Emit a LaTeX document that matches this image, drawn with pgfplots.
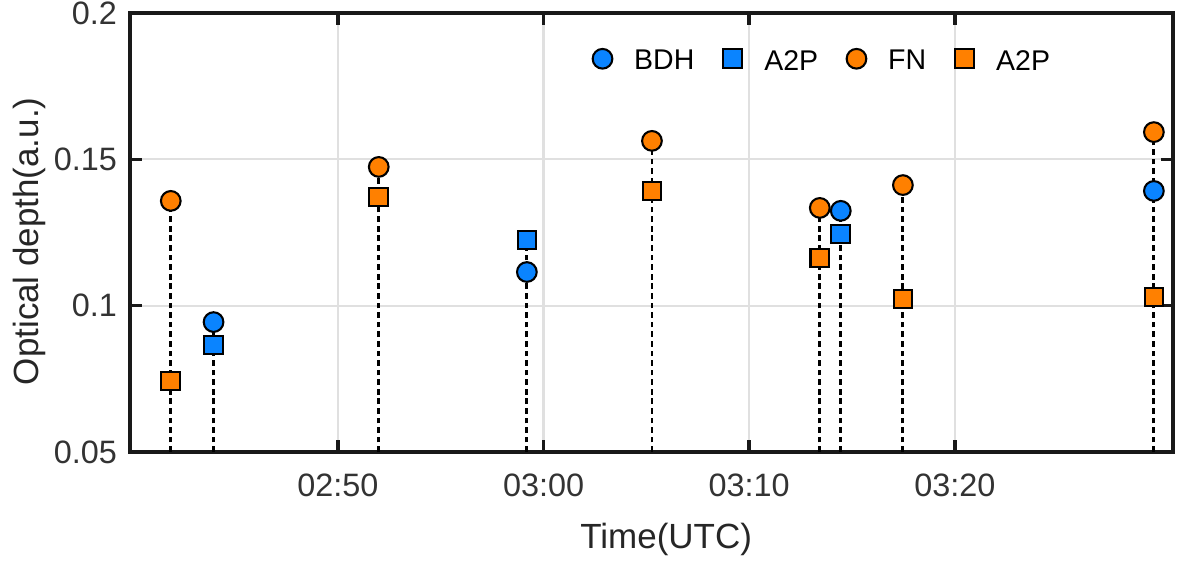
\documentclass[border=0pt]{standalone}
\usepackage{fontspec}
\setmainfont{Liberation Sans}
\usepackage{pgfplots}
\pgfplotsset{compat=1.18}
\definecolor{mblue}{RGB}{10,132,255}
\definecolor{morange}{RGB}{255,128,0}
\begin{document}
\begin{tikzpicture}
\begin{axis}[name=ax, scale only axis, width=402.6pt, height=169.5pt,
  xmin=39.9, xmax=90.6, ymin=0.05, ymax=0.2,
  xtick={50,60,70,80}, xticklabels={02:50,03:00,03:10,03:20},
  ytick={0.05,0.1,0.15,0.2}, yticklabels={0.05,0.1,0.15,0.2},
  tick align=inside, major tick length=4.5pt,
  grid=major, grid style={black!12, line width=0.8pt},
  axis line style={line width=1.35pt, black!90},
  tick style={line width=1.35pt, black!90},
  tick label style={font=\fontsize{12.5}{14}\selectfont, text=black!80},
  xticklabel style={yshift=-5pt},
  yticklabel style={xshift=-1.5pt},
  xlabel={Time(UTC)}, ylabel={Optical depth(a.u.)},
  label style={font=\fontsize{13.5}{15}\selectfont, text=black!85},
  xlabel style={at={(axis description cs:0.514,-0.2)}, anchor=center},
  ylabel style={at={(axis description cs:-0.096,0.48)}, anchor=center},
  legend columns=4,
  legend image code/.code={\path[draw=none, fill=none] (-0.15cm,0cm) rectangle (0.36cm,0cm);
    \draw[#1] plot coordinates {(0cm,1.3pt)};},
  legend style={draw=none, fill=none, at={(0.895,0.888)}, anchor=east,
    font=\fontsize{11}{13}\selectfont,
    /tikz/every even column/.append style={column sep=8.5pt}},
]
% dashed stems up to the top marker of each time
\addplot[ycomb, black, line width=1.1pt, dash pattern=on 2.2pt off 1.5pt, forget plot] coordinates {
  (41.88,0.1358) (43.96,0.0944) (51.99,0.1474) (59.19,0.1224) (65.27,0.1563)
  (73.43,0.1334) (74.45,0.1324) (77.47,0.1412) (89.67,0.1593)
};
\addplot[only marks, mark=*, mark size=3.8pt, draw=black, fill=mblue, line width=0.8pt] coordinates {
  (43.96,0.0944) (59.19,0.1115) (74.45,0.1324) (89.67,0.1392)
};
\addlegendentry{BDH}
\addplot[only marks, mark=square*, mark size=3.6pt, draw=black, fill=mblue, line width=0.8pt] coordinates {
  (43.96,0.0866) (59.19,0.1224) (74.45,0.1245)
};
\addlegendentry{A2P}
\addplot[only marks, mark=*, mark size=3.8pt, draw=black, fill=morange, line width=0.8pt] coordinates {
  (41.88,0.1358) (51.99,0.1474) (65.27,0.1563) (73.43,0.1334) (77.47,0.1412) (89.67,0.1593)
};
\addlegendentry{FN}
\addplot[only marks, mark=square*, mark size=3.6pt, draw=black, fill=morange, line width=0.8pt] coordinates {
  (41.88,0.0743) (51.99,0.1371) (65.27,0.1392) (73.43,0.1163) (77.47,0.1023) (89.67,0.1030)
};
\addlegendentry{A2P}
\end{axis}
\pgfresetboundingbox
\path[use as bounding box] (ax.south west) ++(-50.2pt,-42.1pt) rectangle ([shift={(2.7pt,5pt)}]ax.north east);
\end{tikzpicture}
\end{document}
